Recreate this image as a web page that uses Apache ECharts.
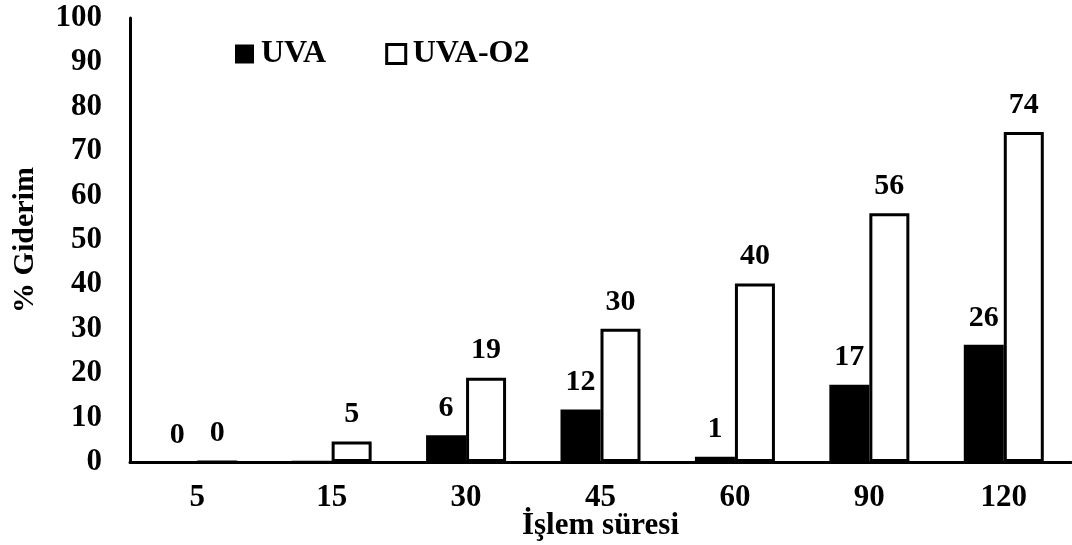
<!DOCTYPE html>
<html>
<head>
<meta charset="utf-8">
<script src="https://cdn.jsdelivr.net/npm/echarts@6/dist/echarts.min.js"></script>
<style>html,body{margin:0;padding:0;background:#fff;overflow:hidden}#c{width:1072px;height:545px}</style>
</head>
<body>
<div id="c"></div>
<script>
const categories = ['5', '15', '30', '45', '60', '90', '120'];
const uva = [0, 0.3, 6, 11.8, 1.2, 17.4, 26.4];
const uvaLabels = ['0', '', '6', '12', '1', '17', '26'];
const uvaO2 = [0, 4.6, 19, 30, 40.2, 56, 74.3];
const uvaO2Labels = ['0', '5', '19', '30', '40', '56', '74'];
const seriesNames = ['UVA', 'UVA-O2'];
const xTitle = 'İşlem süresi';
const yTitle = '% Giderim';

const font = "'Liberation Serif', 'Times New Roman', serif";
const chart = echarts.init(document.getElementById('c'), null, {renderer: 'canvas'});
const labelStyle = {
  show: true, position: 'top', distance: 12,
  fontFamily: font, fontWeight: 'bold', fontSize: 30, color: '#000'
};
chart.setOption({
  animation: false,
  backgroundColor: '#fff',
  grid: {left: 130, right: 1, top: 18, bottom: 83, containLabel: false, outerBoundsMode: 'none'},
  legend: {
    left: 230, top: 33, itemWidth: 19, itemHeight: 19, itemGap: 59,
    icon: 'rect',
    textStyle: {fontFamily: font, fontWeight: 'bold', fontSize: 32, color: '#000', padding: [0, 0, 0, 2]},
    data: [
      {name: seriesNames[0], itemStyle: {color: '#000', borderWidth: 0}},
      {name: seriesNames[1], itemStyle: {color: '#fff', borderColor: '#000', borderWidth: 3}}
    ]
  },
  xAxis: {
    type: 'category', data: categories,
    axisLine: {lineStyle: {color: '#000', width: 3}},
    axisTick: {show: false},
    axisLabel: {fontFamily: font, fontWeight: 'bold', fontSize: 31, color: '#000', margin: 20},
    name: xTitle, nameLocation: 'middle', nameGap: 48, nameMoveOverlap: false,
    nameTextStyle: {fontFamily: font, fontWeight: 'bold', fontSize: 31, color: '#000', verticalAlign: 'top', lineHeight: 31}
  },
  yAxis: {
    type: 'value', min: 0, max: 100, interval: 10,
    axisLine: {show: true, lineStyle: {color: '#000', width: 3}},
    axisTick: {show: false},
    splitLine: {show: false},
    axisLabel: {fontFamily: font, fontWeight: 'bold', fontSize: 31, color: '#000', margin: 28},
    name: yTitle, nameLocation: 'middle', nameGap: 90, nameMoveOverlap: false,
    nameTextStyle: {fontFamily: font, fontWeight: 'bold', fontSize: 30, color: '#000'}
  },
  series: [
    {
      name: seriesNames[0], type: 'bar', data: uva, barWidth: 40, barGap: '0%',
      itemStyle: {color: '#000', borderColor: '#000', borderWidth: 0},
      label: Object.assign({}, labelStyle, {formatter: p => uvaLabels[p.dataIndex]})
    },
    {
      name: seriesNames[1], type: 'bar', data: uvaO2, barWidth: 40, barGap: '0%',
      itemStyle: {color: '#fff', borderColor: '#000', borderWidth: 3},
      label: Object.assign({}, labelStyle, {formatter: p => uvaO2Labels[p.dataIndex]})
    }
  ]
});
</script>
</body>
</html>
